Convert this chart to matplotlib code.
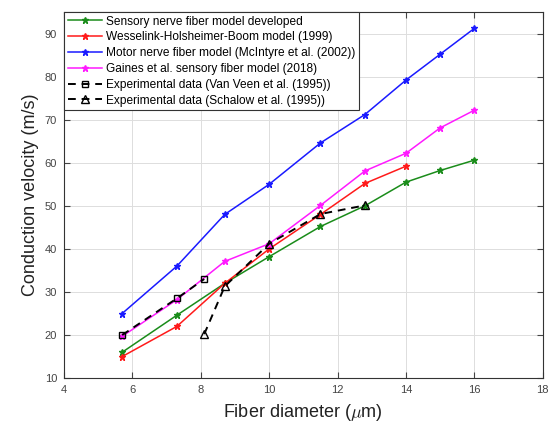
import matplotlib.pyplot as plt

plt.rcParams['font.family'] = ['Liberation Sans', 'DejaVu Sans']
plt.rcParams['mathtext.fontset'] = 'cm'

# fiber diameters (um)
d_model = [5.7, 7.3, 8.7, 10, 11.5, 12.8, 14, 15, 16]
d_whb = [5.7, 7.3, 8.7, 10, 11.5, 12.8, 14]
d_vanveen = [5.7, 7.3, 8.1]
d_schalow = [8.1, 8.7, 10, 11.5, 12.8]

# conduction velocities (m/s)
v_sensory = [16, 24.6, 32, 38.2, 45.2, 50, 55.5, 58.2, 60.6]
v_whb = [15, 22, 32, 40, 48, 55.2, 59.2]
v_motor = [25, 36, 48, 55, 64.6, 71.2, 79.2, 85.2, 91.2]
v_gaines = [19.7, 28.2, 37.1, 41.2, 50.1, 58.1, 62.2, 68.1, 72.2]
v_vanveen = [20, 28.5, 33]
v_schalow = [20.2, 31.3, 41.2, 48.1, 50.1]

fig, ax = plt.subplots(figsize=(5.59, 4.22), dpi=100)
fig.subplots_adjust(left=0.1145, right=0.971, bottom=0.104, top=0.9716)

ax.plot(d_model, v_sensory, '-*', color='#1a8c1a', lw=1.1, ms=5,
        label='Sensory nerve fiber model developed')
ax.plot(d_whb, v_whb, '-*', color='#ff1a1a', lw=1.1, ms=5,
        label='Wesselink-Holsheimer-Boom model (1999)')
ax.plot(d_model, v_motor, '-*', color='#1a1aff', lw=1.1, ms=5,
        label='Motor nerve fiber model (McIntyre et al. (2002))')
ax.plot(d_model, v_gaines, '-*', color='#ff1aff', lw=1.1, ms=5,
        label='Gaines et al. sensory fiber model (2018)')
ax.plot(d_vanveen, v_vanveen, '--s', color='black', mfc='none', lw=1.4, ms=5,
        dashes=(4, 3), label='Experimental data (Van Veen et al. (1995))')
ax.plot(d_schalow, v_schalow, '--^', color='black', mfc='none', lw=1.4, ms=6,
        dashes=(4, 3), label='Experimental data (Schalow et al. (1995))')

ax.set_xlim(4, 18)
ax.set_ylim(10, 95)
ax.set_xticks(range(4, 19, 2))
ax.set_yticks(range(10, 91, 10))
ax.grid(True, color='#dddddd', lw=0.7)
ax.set_axisbelow(True)
ax.tick_params(direction='in', top=True, right=True, labelsize=8,
               colors='#444444', length=4, pad=5)
for s in ax.spines.values():
    s.set_color('#333333')
    s.set_linewidth(0.8)

ax.set_xlabel(r'Fiber diameter ($\mu$m)', fontsize=13, color='#222222',
              labelpad=5)
ax.set_ylabel('Conduction velocity (m/s)', fontsize=13, color='#222222')

leg = ax.legend(loc='upper left', fontsize=8.6, borderaxespad=0,
                fancybox=False, edgecolor='#333333', framealpha=1,
                handlelength=2.9, labelspacing=0.32, borderpad=0.3,
                handletextpad=0.3)
leg.get_frame().set_linewidth(0.8)

fig.savefig('out.png')
